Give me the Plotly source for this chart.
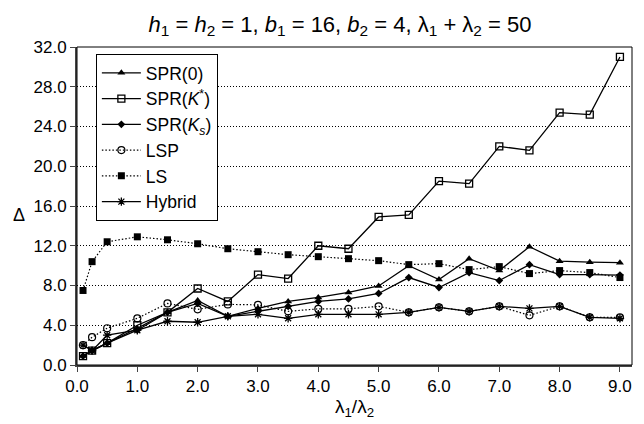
import plotly.graph_objects as go

ratio = [0.1, 0.25, 0.5, 1.0, 1.5, 2.0, 2.5, 3.0, 3.5, 4.0, 4.5, 5.0, 5.5, 6.0, 6.5, 7.0, 7.5, 8.0, 8.5, 9.0]
spr0 = [0.9, 1.45, 2.2, 3.7, 5.3, 6.5, 4.9, 5.7, 6.4, 6.8, 7.3, 7.95, 10.0, 8.6, 10.7, 9.5, 11.9, 10.45, 10.35, 10.3]
spr_kstar = [0.9, 1.45, 2.2, 4.0, 5.3, 7.7, 6.4, 9.1, 8.7, 12.0, 11.7, 14.9, 15.1, 18.5, 18.25, 22.0, 21.6, 25.4, 25.2, 31.0]
spr_ks = [0.9, 1.45, 2.2, 3.5, 5.3, 6.2, 4.9, 5.4, 5.9, 6.4, 6.65, 7.2, 8.8, 7.8, 9.3, 8.5, 10.1, 9.1, 9.1, 9.05]
lsp = [2.0, 2.8, 3.7, 4.7, 6.2, 5.6, 6.1, 6.05, 5.4, 5.65, 5.65, 5.9, 5.3, 5.8, 5.4, 5.9, 5.0, 5.9, 4.8, 4.8]
ls = [7.5, 10.4, 12.4, 12.9, 12.6, 12.2, 11.7, 11.4, 11.1, 10.9, 10.7, 10.5, 10.1, 10.2, 9.6, 9.9, 9.2, 9.5, 9.3, 8.8]
hybrid = [2.0, 1.45, 3.0, 3.5, 4.4, 4.3, 4.9, 5.1, 4.7, 5.1, 5.1, 5.1, 5.3, 5.8, 5.4, 5.9, 5.7, 5.9, 4.8, 4.7]

x_ticks = [0, 1, 2, 3, 4, 5, 6, 7, 8, 9]
y_ticks = [0, 4, 8, 12, 16, 20, 24, 28, 32]

series = [
    ("SPR(0)", spr0, "solid", dict(symbol="triangle-up", size=7, color="black")),
    ("SPR(<i>K</i><sup>*</sup>)", spr_kstar, "solid",
     dict(symbol="square-open", size=7, color="black", line=dict(width=1.3, color="black"))),
    ("SPR(<i>K</i><sub><i>s</i></sub>)", spr_ks, "solid", dict(symbol="diamond", size=6, color="black")),
    ("LSP", lsp, "1.5px,2px", dict(symbol="circle-open", size=7, color="black", line=dict(width=1.2, color="black"))),
    ("LS", ls, "1.5px,2px", dict(symbol="square", size=7, color="black")),
    ("Hybrid", hybrid, "solid", dict(symbol="asterisk-open", size=7, color="black", line=dict(width=1.3, color="black"))),
]

fig = go.Figure()
for name, vals, dash, marker in series:
    fig.add_trace(go.Scatter(
        x=ratio, y=vals, name=name, mode="lines+markers",
        line=dict(color="black", width=1.3 if dash == "solid" else 1.2, dash=dash),
        marker=marker,
    ))

font = "Liberation Sans, Arial, sans-serif"
fig.update_layout(
    width=644, height=424,
    margin=dict(l=69, r=20, t=39, b=67),
    paper_bgcolor="white", plot_bgcolor="white",
    font=dict(family=font, size=17, color="black"),
    title=dict(
        text="<i>h</i><sub>1</sub> = <i>h</i><sub>2</sub> = 1, <i>b</i><sub>1</sub> = 16, "
             "<i>b</i><sub>2</sub> = 4, λ<sub>1</sub> + λ<sub>2</sub> = 50",
        x=0.5155, xref="container", xanchor="center", y=0.962, yanchor="middle",
        font=dict(size=22, family=font),
    ),
    showlegend=True,
    legend=dict(
        x=0.034, y=0.978, xanchor="left", yanchor="top",
        bgcolor="white", bordercolor="black", borderwidth=1,
        font=dict(size=17.5, family=font), tracegroupgap=0, itemwidth=39,
    ),
    xaxis=dict(
        range=[0, 9.2], tickvals=x_ticks, tickformat=".1f",
        ticks="outside", ticklen=5, tickcolor="#444",
        showline=True, linecolor="#444", linewidth=2,
        showgrid=False, zeroline=False,
        title=dict(text="λ<sub>1</sub>/λ<sub>2</sub>", font=dict(size=19), standoff=2),
    ),
    yaxis=dict(
        range=[0, 32], tickvals=y_ticks, tickformat=".1f",
        ticks="outside", ticklen=5, tickcolor="#444",
        showline=True, linecolor="#444", linewidth=2,
        showgrid=True, gridcolor="black", griddash="1px,2px", gridwidth=1,
        zeroline=False,
    ),
    shapes=[dict(type="rect", xref="paper", yref="paper", x0=0, y0=0, x1=1, y1=1,
                 line=dict(color="black", width=1), layer="above")],
    annotations=[dict(text="Δ", xref="paper", yref="paper", x=-0.1045, y=0.472,
                      xanchor="center", yanchor="middle", showarrow=False,
                      font=dict(size=18, family=font))],
)

fig.write_html("out.html")
